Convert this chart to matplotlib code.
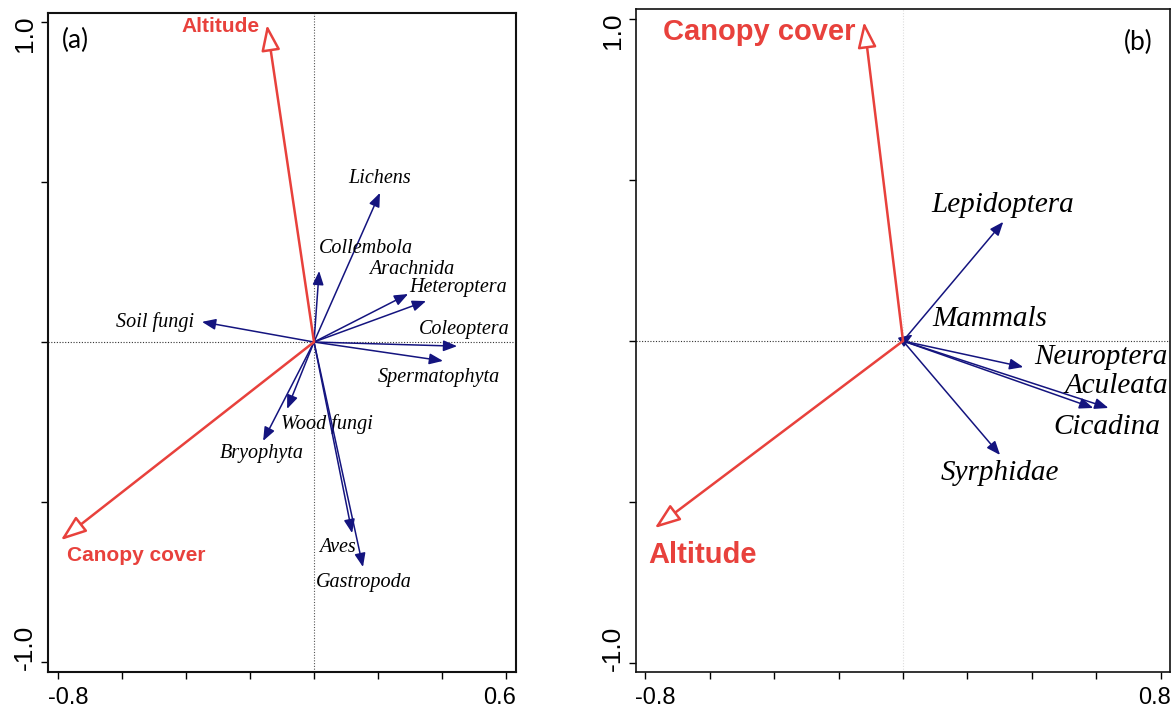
import numpy as np
import matplotlib.pyplot as plt
from matplotlib.patches import FancyArrowPatch

# ---- data: panel (a) ----
a_species = ["Lichens", "Collembola", "Arachnida", "Heteroptera", "Coleoptera",
             "Spermatophyta", "Soil fungi", "Wood fungi", "Bryophyta", "Aves", "Gastropoda"]
a_x = [0.206, 0.016, 0.294, 0.350, 0.447, 0.403, -0.350, -0.084, -0.159, 0.119, 0.153]
a_y = [0.466, 0.222, 0.150, 0.128, -0.013, -0.059, 0.063, -0.209, -0.309, -0.597, -0.703]
a_env = ["Altitude", "Canopy cover"]
a_env_x = [-0.147, -0.791]
a_env_y = [0.991, -0.619]

# ---- data: panel (b) ----
b_species = ["Lepidoptera", "Mammals", "Neuroptera", "Aculeata", "Cicadina", "Syrphidae"]
b_x = [0.311, 0.030, 0.373, 0.637, 0.590, 0.301]
b_y = [0.370, 0.020, -0.081, -0.208, -0.208, -0.354]
b_env = ["Canopy cover", "Altitude"]
b_env_x = [-0.121, -0.770]
b_env_y = [0.991, -0.581]

# label offsets from arrow tips (pixels)
a_off = [(0, 14), (47, 22), (4, 25), (32, 14), (7, 17), (-4, -17), (-47, 0),
         (40, -15), (-1, -13), (-15, -14), (1, -15)]
a_env_off = [(-46, -2), (75, -15)]
b_off = [(-1, 17), (77, 16), (78, 10), (8, 22), (14, -19), (0, -18)]
b_env_off = [(-105, -10), (48, -27)]

blue = "#14147f"
red = "#e8413c"

fig = plt.figure(figsize=(11.73, 7.13), dpi=100)


def panel(pos, xlim, ylim, xticks, sp, sx, sy, soff, sfs,
          env, ex, ey, eoff, efs, tag, tagpos, tagha, vline_col, frame_lw):
    ax = fig.add_axes(pos)
    ax.set_xlim(xlim)
    ax.set_ylim(ylim)
    ax.axvline(0, color=vline_col, ls=(0, (1, 1.5)), lw=0.8, zorder=0)
    ax.axhline(0, color="#333333", ls=(0, (1, 1.5)), lw=0.8, zorder=0)

    for name, x, y, (dx, dy) in zip(sp, sx, sy, soff):
        ax.add_patch(FancyArrowPatch((0, 0), (x, y),
                                     arrowstyle="-|>,head_length=0.75,head_width=0.3",
                                     mutation_scale=11, color=blue, lw=1.1,
                                     shrinkA=0, shrinkB=0, zorder=3))
        ax.annotate(name, (x, y), xytext=(dx, dy), textcoords="offset pixels",
                    ha="center", va="center", fontsize=sfs, style="italic",
                    family="Liberation Serif", color="black")

    for name, x, y, (dx, dy) in zip(env, ex, ey, eoff):
        ax.add_patch(FancyArrowPatch((0, 0), (x, y),
                                     arrowstyle="-|>,head_length=1.5,head_width=0.55",
                                     mutation_scale=10.5, ec=red, fc="white", lw=1.8,
                                     shrinkA=0, shrinkB=0, zorder=4))
        ax.annotate(name, (x, y), xytext=(dx, dy), textcoords="offset pixels",
                    ha="center", va="center", fontsize=efs, fontweight="bold",
                    family="Liberation Sans", color=red)

    # ticks, labels only at the ends (kept inside the frame like R does)
    ax.set_xticks(xticks)
    ax.set_xticklabels([])
    ax.set_yticks([-1.0, -0.5, 0, 0.5, 1.0])
    ax.set_yticklabels([])
    ax.tick_params(direction="out", length=5, width=1)
    tk = dict(fontsize=17, family="Liberation Sans", textcoords="offset pixels")
    ax.annotate("%.1f" % xticks[0], (xticks[0], 0), xycoords=("data", "axes fraction"),
                xytext=(-10, -15), ha="left", va="top", **tk)
    ax.annotate("%.1f" % xticks[-1], (xticks[-1], 0), xycoords=("data", "axes fraction"),
                xytext=(10, -15), ha="right", va="top", **tk)
    tk["fontsize"] = 19
    ax.annotate("1.0", (0, 1.0), xycoords=("axes fraction", "data"),
                xytext=(-11, 6), ha="right", va="top", rotation=90, **tk)
    ax.annotate("-1.0", (0, -1.0), xycoords=("axes fraction", "data"),
                xytext=(-11, -8), ha="right", va="bottom", rotation=90, **tk)

    for s in ax.spines.values():
        s.set_linewidth(frame_lw)
        s.set_color("#111111")

    ax.text(tagpos[0], tagpos[1], tag, transform=ax.transAxes, ha=tagha,
            va="center", fontsize=19, family="Lato")
    return ax


xa = np.round(np.arange(-0.8, 0.61, 0.2), 1)
panel([48 / 1173, 1 - 672 / 713, 468 / 1173, 659 / 713],
      (-0.831, 0.631), (-1.031, 1.028), xa,
      a_species, a_x, a_y, a_off, 14.5,
      a_env, a_env_x, a_env_y, a_env_off, 15,
      "(a)", (0.030, 0.959), "left", "#555555", 1.5)

xb = np.round(np.arange(-0.8, 0.81, 0.2), 1)
panel([636 / 1173, 1 - 672 / 713, 534 / 1173, 663 / 713],
      (-0.828, 0.828), (-1.028, 1.031), xb,
      b_species, b_x, b_y, b_off, 21,
      b_env, b_env_x, b_env_y, b_env_off, 21,
      "(b)", (0.968, 0.949), "right", "#dddddd", 1.2)

fig.savefig("out.png", dpi=100)
